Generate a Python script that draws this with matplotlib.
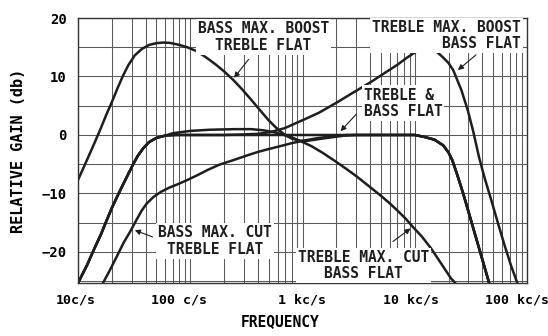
import numpy as np
import matplotlib.pyplot as plt

plt.rcParams['font.family'] = ['DejaVu Sans Mono']

# frequency response curves of the tone control, (c/s, db)
flat_f = [10, 12, 14, 16, 18, 20, 22.5, 25, 28, 31, 34, 38, 43, 50, 60, 75,
          200, 1000, 5000, 10000, 12000, 15000, 18000, 20000, 21600, 24000,
          27000, 31600, 38000, 46000]
flat_db = [-25.3, -22.3, -19.4, -17, -14.6, -12.5, -10.4, -8.6, -6.7, -5.0,
           -3.6, -2.3, -1.2, -0.5, -0.1, 0, 0, 0, 0, 0, -0.3, -0.8, -1.8,
           -3.0, -4.3, -6.9, -10.0, -14.5, -19.8, -25.3]

bass_boost_f = [10, 12, 14, 16, 18, 20, 22.5, 25, 28, 32, 37, 43, 50, 57, 66,
                80, 94, 115, 140, 170, 205, 242, 290, 350, 420, 500, 600, 700,
                800, 950, 1100, 1400, 1800, 2400, 3000, 10000, 12000, 15000,
                18000, 20000, 21600, 24000, 27000, 31600, 38000, 46000]
bass_boost_db = [-7.7, -4.3, -1.4, 1.2, 3.6, 5.6, 8.0, 10.0, 11.9, 13.6, 14.7,
                 15.4, 15.7, 15.8, 15.75, 15.4, 15.0, 14.3, 13.2, 12.0, 10.7,
                 9.4, 7.8, 6.0, 4.2, 2.5, 1.0, 0.0, -0.6, -1.0, -1.0, -0.7,
                 -0.4, -0.1, 0, 0, -0.3, -0.8, -1.8, -3.0, -4.3, -6.9, -10.0,
                 -14.5, -19.8, -25.3]

bass_cut_f = [16.7, 19, 22, 25.5, 29, 33, 37, 41, 47, 55, 65, 80, 94, 115,
              142, 180, 242, 320, 400, 500, 636, 800, 1000, 1300, 1700, 2500,
              10000, 12000, 15000, 18000, 20000, 21600, 24000, 27000, 31600,
              38000, 46000]
bass_cut_db = [-25.3, -23.3, -20.9, -18.4, -16.6, -14.6, -12.9, -11.7, -10.6,
               -9.7, -9.0, -8.3, -7.7, -6.9, -6.0, -5.1, -4.3, -3.5, -2.9,
               -2.4, -1.9, -1.4, -1.0, -0.6, -0.3, 0, 0, -0.3, -0.8, -1.8,
               -3.0, -4.3, -6.9, -10.0, -14.5, -19.8, -25.3]

treble_boost_f = [10, 12, 14, 16, 18, 20, 22.5, 25, 28, 31, 34, 38, 43, 50, 60,
                  75, 200, 300, 400, 520, 700, 1020, 1400, 2000, 2800, 4100,
                  5500, 7000, 8500, 10000, 11300, 12500, 14000, 16000, 18000,
                  20000, 22000, 26000, 29600, 33000, 37400, 42000, 48000,
                  55000, 63000, 72000, 82000]
treble_boost_db = [-25.3, -22.3, -19.4, -17, -14.6, -12.5, -10.4, -8.6, -6.7,
                   -5.0, -3.6, -2.3, -1.2, -0.5, -0.1, 0, 0, 0.1, 0.2, 0.5,
                   1.2, 2.6, 3.8, 5.5, 7.2, 9.1, 10.7, 12.0, 13.2, 14.1, 14.6,
                   14.8, 14.7, 14.1, 13.2, 12.3, 11.1, 7.7, 4.3, 0.8, -3.8,
                   -7.4, -11.1, -15.0, -18.8, -22.3, -25.3]

treble_cut_f = [10, 12, 14, 16, 18, 20, 22.5, 25, 28, 31, 34, 38, 43, 50, 60,
                70, 100, 150, 250, 350, 450, 550, 650, 800, 1000, 1200, 1500,
                2000, 2500, 3000, 4000, 5000, 6000, 7000, 8300, 9600, 11500,
                14000, 17500, 21000, 23000]
treble_cut_db = [-25.3, -22.3, -19.4, -17, -14.6, -12.5, -10.4, -8.6, -6.7,
                 -5.0, -3.6, -2.3, -1.2, -0.5, -0.1, 0.3, 0.7, 0.9, 1.0, 1.0,
                 0.8, 0.5, 0.15, -0.4, -1.2, -1.9, -3.0, -4.6, -5.9, -7.0,
                 -8.9, -10.4, -11.7, -12.9, -14.3, -15.7, -17.3, -19.4, -22.2,
                 -24.5, -25.3]

tick_pos = [10, 100, 1000, 10000, 100000]
tick_label_pos = [9.6, 80, 980, 9200, 81500]
tick_labels = ['10c/s', '100 c/s', '1 kc/s', '10 kc/s', '100 kc/s']
db_ticks = [-20, -10, 0, 10, 20]

fig = plt.figure(figsize=(5.48, 3.36), dpi=100)
ax = fig.add_axes([78 / 548, 53 / 336, 449 / 548, 265 / 336])

ax.set_xscale('log')
ax.set_xlim(10, 100000)
ax.set_ylim(-25.3, 20)

# graph paper grid
ax.set_xticks(tick_pos)
ax.set_xticklabels([])
minor = [m * d for d in [10, 100, 1000, 10000] for m in range(2, 10)]
ax.set_xticks(minor, minor=True)
ax.xaxis.set_minor_formatter(plt.NullFormatter())
ax.set_yticks(db_ticks)
ax.set_yticklabels(['\u221220', '\u221210', '0', '10', '20'], fontsize=10,
                   fontweight='bold')
ax.set_yticks(np.arange(-25, 21, 5), minor=True)
ax.tick_params(which='both', length=0, pad=8)
ax.grid(which='both', color='#5a5a5a', lw=0.75)
ax.set_axisbelow(True)
for s in ax.spines.values():
    s.set_color('#333333')
    s.set_linewidth(1.0)

for x, lab in zip(tick_label_pos, tick_labels):
    ax.text(x, -0.066, lab, transform=ax.get_xaxis_transform(), ha='center',
            va='center', fontsize=9.5, fontweight='bold')

ink = '#1e1e1e'
for f, db in [(flat_f, flat_db), (bass_boost_f, bass_boost_db),
              (bass_cut_f, bass_cut_db), (treble_boost_f, treble_boost_db),
              (treble_cut_f, treble_cut_db)]:
    ax.plot(f, db, color=ink, lw=1.8, solid_joinstyle='round',
            solid_capstyle='round')

box = dict(facecolor='white', edgecolor='none', pad=1.5)
txt = dict(fontsize=10.5, fontweight='bold', color=ink, linespacing=1.15,
           bbox=box, zorder=4)
arrow = dict(arrowstyle='-|>', color=ink, lw=0.8, mutation_scale=8)

ax.text(449, 16.8, 'BASS MAX. BOOST\nTREBLE FLAT', ha='center', va='center',
        multialignment='center', **txt)
ax.annotate('', xy=(237, 9.4), xytext=(343, 13.3), arrowprops=arrow, zorder=5)

ax.text(88600, 17.0, 'TREBLE MAX. BOOST\nBASS FLAT', ha='right', va='center',
        multialignment='right', **txt)
ax.annotate('', xy=(23200, 10.8), xytext=(36700, 14.0), arrowprops=arrow, zorder=5)

ax.text(3500, 5.4, 'TREBLE &\nBASS FLAT', ha='left', va='center',
        multialignment='left', **txt)
ax.annotate('', xy=(2100, 0.3), xytext=(3130, 3.9), arrowprops=arrow, zorder=5)

ax.text(167, -18.1, 'BASS MAX. CUT\nTREBLE FLAT', ha='center', va='center',
        multialignment='center', **txt)
ax.annotate('', xy=(30.4, -16.1), xytext=(48.7, -17.6), arrowprops=arrow, zorder=5)

ax.text(3500, -22.3, 'TREBLE MAX. CUT\nBASS FLAT', ha='center', va='center',
        multialignment='center', **txt)
ax.annotate('', xy=(9600, -15.7), xytext=(6100, -18.5), arrowprops=arrow, zorder=5)

ax.set_ylabel('RELATIVE GAIN (db)', fontsize=11, fontweight='bold', labelpad=11)
fig.text(280 / 548, 14 / 336, 'FREQUENCY', ha='center', va='center',
         fontsize=10.5, fontweight='bold')

fig.savefig('out.png', dpi=100)
